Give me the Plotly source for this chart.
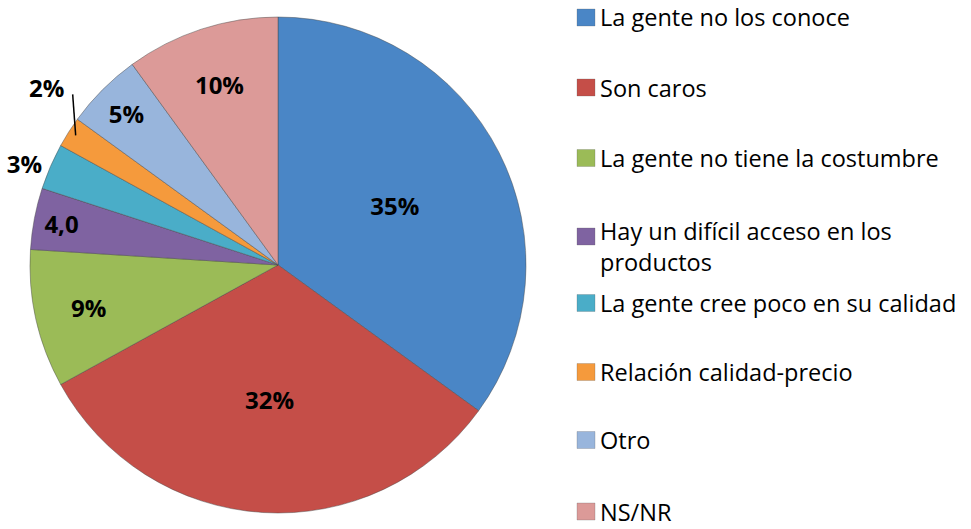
import math
import plotly.graph_objects as go

categories = [
    "La gente no los conoce",
    "Son caros",
    "La gente no tiene la costumbre",
    "Hay un difícil acceso en los<br>productos",
    "La gente cree poco en su calidad",
    "Relación calidad-precio",
    "Otro",
    "NS/NR",
]
values = [35, 32, 9, 4, 3, 2, 5, 10]
slice_labels = ["35%", "32%", "9%", "4,0", "3%", "2%", "5%", "10%"]
colors = ["#4a86c6", "#c54e48", "#9bbb57", "#7f63a1", "#4aadc8", "#f59a3c", "#98b5dc", "#dc9a98"]
text_positions = ["inside", "inside", "inside", "inside", "outside", "none", "inside", "inside"]

W, H = 971, 529
CX, CY, R = 278, 265, 248  # pie centre / radius in pixels

fig = go.Figure()
fig.add_trace(go.Pie(
    labels=[c.replace("<br>", " ") for c in categories],
    values=values,
    text=slice_labels,
    textinfo="text",
    textposition=text_positions,
    insidetextorientation="horizontal",
    textfont=dict(family="Open Sans", size=24, color="black", weight="bold"),
    marker=dict(colors=colors, line=dict(color="rgba(70,70,70,0.45)", width=1)),
    sort=False,
    direction="clockwise",
    rotation=0,
    showlegend=False,
    domain=dict(x=[(CX - R) / W, (CX + R) / W], y=[(H - CY - R) / H, (H - CY + R) / H]),
    hoverinfo="label+text",
))

# leader-lined label for the small "Relación calidad-precio" slice
idx = 5
frac = (sum(values[:idx]) + values[idx] / 2) / sum(values)
theta = 2 * math.pi * frac
px = CX + (R - 6) * math.sin(theta)
py = CY - (R - 6) * math.cos(theta)
fig.add_shape(type="line", xref="paper", yref="paper",
              x0=(px + 2) / W, y0=(H - py) / H, x1=(px - 1) / W, y1=(H - py + 41) / H,
              line=dict(color="black", width=1.5))
fig.add_annotation(xref="paper", yref="paper", x=(px - 27) / W, y=(H - py + 48) / H,
                   xanchor="center", yanchor="middle",
                   text=slice_labels[idx], showarrow=False,
                   font=dict(family="Open Sans", size=24, color="black", weight="bold"))

# manual legend
legend_y = [17.5, 87.5, 158, 236.5, 303, 372, 440, 511.5]
for i, (cat, col) in enumerate(zip(categories, colors)):
    yc = legend_y[i]
    fig.add_shape(type="rect", xref="paper", yref="paper",
                  x0=577 / W, x1=595 / W, y0=(H - yc - 8.5) / H, y1=(H - yc + 8.5) / H,
                  fillcolor=col, line=dict(color="rgba(90,90,90,0.5)", width=0.5))
    multiline = "<br>" in cat
    ty = yc + 10 if multiline else yc
    fig.add_annotation(xref="paper", yref="paper", x=598 / W, y=(H - ty) / H,
                       xanchor="left", yanchor="middle",
                       text=cat, showarrow=False, align="left",
                       font=dict(family="Open Sans", size=23.5, color="black"))

fig.update_layout(
    width=W, height=H,
    margin=dict(l=0, r=0, t=0, b=0, autoexpand=False),
    paper_bgcolor="white", plot_bgcolor="white",
)
fig.write_html("out.html", config={"displayModeBar": False},
               post_script="document.body.style.margin='0px';")
